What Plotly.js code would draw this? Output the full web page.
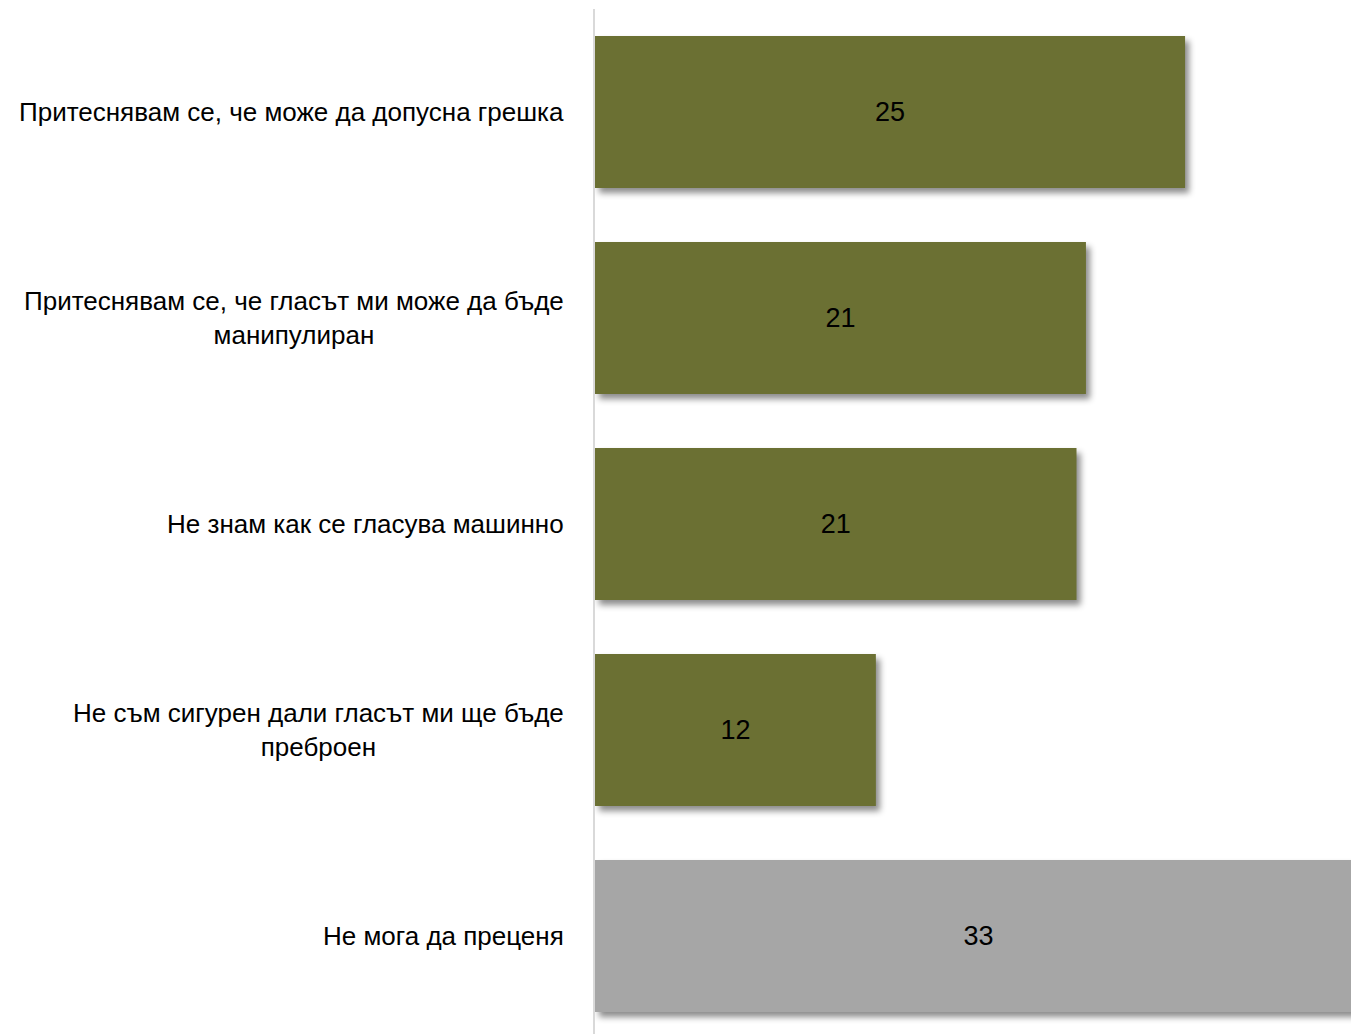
<!DOCTYPE html>
<html>
<head>
<meta charset="utf-8">
<script src="https://cdn.plot.ly/plotly-3.0.1.min.js"></script>
<style>
  html, body { margin: 0; padding: 0; background: #fff; }
  #chart { width: 1351px; height: 1034px; }
  .barlayer .point path { filter: drop-shadow(4px 5px 3px rgba(0,0,0,0.45)); }
</style>
</head>
<body>
<div id="chart"></div>
<script>
const categories = [
  "Притеснявам се, че може да допусна грешка",
  "Притеснявам се, че гласът ми може да бъде<br>манипулиран",
  "Не знам как се гласува машинно",
  "Не съм сигурен дали гласът ми ще бъде<br>преброен",
  "Не мога да преценя"
];
const values = [25.0, 20.8, 20.4, 11.9, 32.5];
const labels = ["25", "21", "21", "12", "33"];
const barColors = ["#6B7033", "#6B7033", "#6B7033", "#6B7033", "#A6A6A6"];

const FONT = "'Liberation Sans Narrow', 'Arial Narrow', 'Liberation Sans', Arial, sans-serif";

const trace = {
  type: "bar",
  orientation: "h",
  x: values,
  y: categories.map((c, i) => i),
  text: labels,
  textposition: "inside",
  insidetextanchor: "middle",
  textangle: 0,
  textfont: { family: FONT, size: 27, color: "#000000" },
  marker: { color: barColors, line: { width: 0 } },
  width: 0.738,
  hoverinfo: "skip",
  cliponaxis: true
};

const annotations = categories.map((c, i) => ({
  xref: "paper", yref: "y",
  x: 0, y: i,
  xanchor: "right", yanchor: "middle",
  xshift: -29,
  text: c,
  align: "center",
  showarrow: false,
  font: { family: FONT, size: 26, color: "#000000" }
}));

const layout = {
  width: 1351,
  height: 1034,
  margin: { l: 595, r: 0, t: 9, b: 0 },
  paper_bgcolor: "#ffffff",
  plot_bgcolor: "#ffffff",
  showlegend: false,
  xaxis: {
    range: [0, 32.03],
    showgrid: false, zeroline: false, showticklabels: false, ticks: "",
    showline: false, fixedrange: true
  },
  yaxis: {
    range: [4.476, -0.5],
    showgrid: false, zeroline: false, showticklabels: false, ticks: "",
    showline: true, linecolor: "#D9D9D9", linewidth: 2,
    fixedrange: true
  },
  annotations: annotations
};

Plotly.newPlot("chart", [trace], layout, { displayModeBar: false, staticPlot: true });
</script>
</body>
</html>
